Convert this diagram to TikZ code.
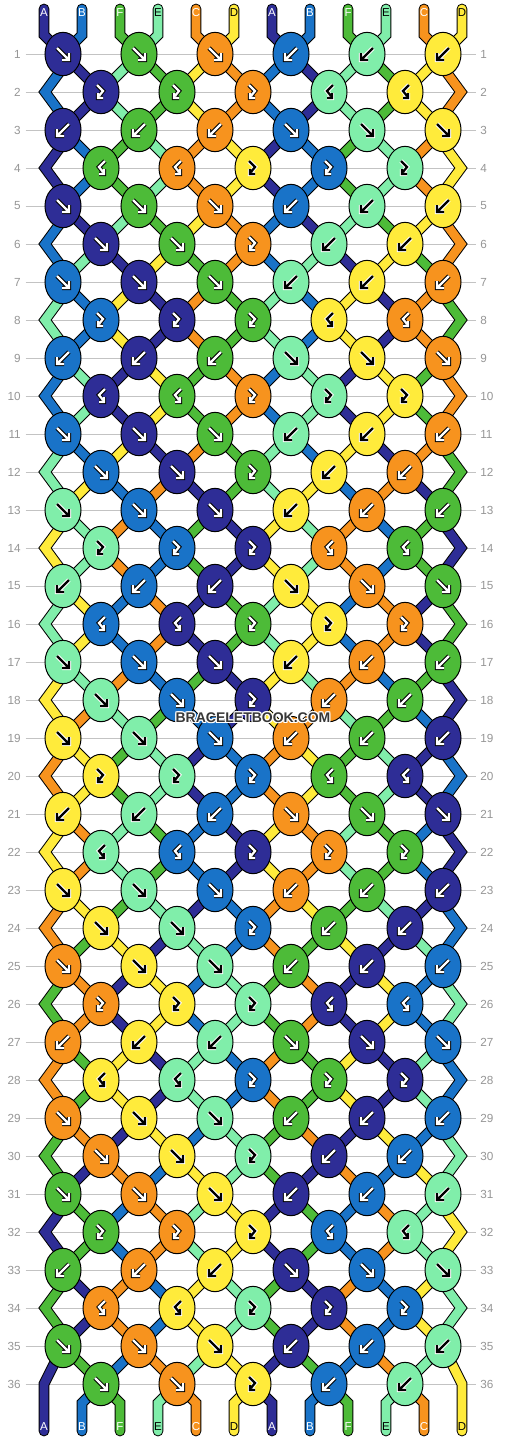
\documentclass[tikz,border=0pt]{standalone}
\usepackage{fontspec}
\setmainfont{Liberation Sans}
\usetikzlibrary{shapes.geometric}

\pgfdeclarelayer{grid}
\pgfdeclarelayer{strands}
\pgfsetlayers{grid,strands,main}

\definecolor{colA}{RGB}{46,45,150}
\definecolor{colB}{RGB}{25,115,200}
\definecolor{colF}{RGB}{77,187,56}
\definecolor{colE}{RGB}{128,238,170}
\definecolor{colC}{RGB}{247,147,30}
\definecolor{colD}{RGB}{255,235,59}
\definecolor{rowgray}{RGB}{195,195,195}
\definecolor{numgray}{RGB}{150,150,150}
\definecolor{markgray}{RGB}{55,55,55}

% arrow colours on each thread colour
\def\inkA{white}\def\inkB{white}\def\inkF{white}\def\inkE{black}\def\inkC{white}\def\inkD{black}
\def\rimA{black}\def\rimB{black}\def\rimF{black}\def\rimE{white}\def\rimC{black}\def\rimD{white}

% knot types: 1 forward, 2 backward, 3 forward-backward, 4 backward-forward
% the rows repeat every six
\def\krowi{1,1,1,2,2,2}
\def\krowii{3,3,3,4,4}
\def\krowiii{2,2,2,1,1,1}
\def\krowiv{4,4,3,3,3}
\def\krowv{1,1,1,2,2,2}
\def\krowvi{1,1,3,2,2}

% follow the threads row by row
\foreach \c [count=\p] in {A,B,F,E,C,D,A,B,F,E,C,D}{%
  \expandafter\xdef\csname st\p\endcsname{\c}%
  \expandafter\xdef\csname sg-0-\p\endcsname{\c}}
\foreach \r in {1,...,36}{%
  \pgfmathtruncatemacro\m{mod(\r-1,6)+1}%
  \pgfmathtruncatemacro\off{1-mod(\r,2)}%
  \edef\tlist{\csname krow\romannumeral\m\endcsname}%
  \foreach \t [count=\j] in \tlist {%
    \pgfmathtruncatemacro\pl{2*\j-1+\off}%
    \pgfmathtruncatemacro\pr{\pl+1}%
    \edef\lcol{\csname st\pl\endcsname}%
    \edef\rcol{\csname st\pr\endcsname}%
    \ifodd\t\relax\edef\kcol{\lcol}\else\edef\kcol{\rcol}\fi
    \ifnum\t<3\relax
      \expandafter\xdef\csname st\pl\endcsname{\rcol}%
      \expandafter\xdef\csname st\pr\endcsname{\lcol}%
    \fi
    \expandafter\xdef\csname kc-\r-\j\endcsname{\kcol}%
    \expandafter\xdef\csname kt-\r-\j\endcsname{\t}%
  }%
  \foreach \p in {1,...,12}{%
    \expandafter\xdef\csname sg-\r-\p\endcsname{\csname st\p\endcsname}}%
}

\tikzset{every picture/.style={line width=0.75pt}}
\tikzset{
  knot/.style={ellipse,draw=black,line width=0.75pt,inner sep=0pt,minimum width=27pt,minimum height=32.5pt},
  strand/.style={draw=black,line width=0.75pt,double=#1,double distance=6.6pt},
  rowline/.style={draw=rowgray,line width=0.75pt},
  rownum/.style={text=numgray,inner sep=3.4pt,font=\fontsize{8.8}{10}\selectfont},
  endlabel/.style={inner sep=0pt,font=\fontsize{8.6}{10}\selectfont},
  watermark/.style={inner sep=0pt,text=markgray,font=\bfseries\fontsize{10.5}{12}\selectfont},
  % the glyphs are drawn with y pointing up
  glyph1/.pic={\foreach \w/\pen in {3.2pt/\gRim,1.7pt/\gInk}
    \draw[line width=\w,draw=\pen,line cap=square] (-6,6) -- (5,-5) (6,1) -- (6,-6) -- (-1,-6);},
  glyph2/.pic={\foreach \w/\pen in {3.2pt/\gRim,1.7pt/\gInk}
    \draw[line width=\w,draw=\pen,line cap=square] (6,6) -- (-5,-5) (-6,1) -- (-6,-6) -- (1,-6);},
  glyph3/.pic={\foreach \w/\pen in {3.2pt/\gRim,1.7pt/\gInk}
    \draw[line width=\w,draw=\pen,line cap=square] (-4,7) -- (2,1) -- (-2,-4) (-3,-1) -- (-3,-6) -- (2,-6);},
  glyph4/.pic={\foreach \w/\pen in {3.2pt/\gRim,1.7pt/\gInk}
    \draw[line width=\w,draw=\pen,line cap=square] (4,7) -- (-2,1) -- (2,-4) (3,-1) -- (3,-6) -- (-2,-6);},
}

\begin{document}
\begin{tikzpicture}[x=0.75pt,y=0.75pt,yscale=-1]
\useasboundingbox (0,0) rectangle (506,1440);

% row numbers and guide lines
\begin{pgfonlayer}{grid}
\fill[white] (0,0) rectangle (506,1440);
\foreach \r in {1,...,36}{
  \node[rownum,anchor=east] (ln-\r) at (25.5,{54+38*(\r-1)}) {\r};
  \node[rownum,anchor=west] (rn-\r) at (475.5,{54+38*(\r-1)}) {\r};
  \draw[rowline] (ln-\r) -- (rn-\r);
}
\end{pgfonlayer}

% knots
\foreach \r in {1,...,36}{
  \pgfmathtruncatemacro\off{1-mod(\r,2)}
  \pgfmathtruncatemacro\nk{6-\off}
  \foreach \j in {1,...,\nk}{
    \edef\kcol{\csname kc-\r-\j\endcsname}
    \edef\ktyp{\csname kt-\r-\j\endcsname}
    \edef\gInk{\csname ink\kcol\endcsname}
    \edef\gRim{\csname rim\kcol\endcsname}
    \node[knot,fill=col\kcol] (k-\r-\j) at ({63+76*(\j-1)+38*\off},{54+38*(\r-1)}) {};
    \pic at (k-\r-\j) {glyph\ktyp};
  }
}

\begin{pgfonlayer}{strands}
% threads at the top
\foreach \c [count=\p] in {A,B,F,E,C,D,A,B,F,E,C,D}{
  \pgfmathtruncatemacro\j{(\p+1)/2}
  \coordinate (top-\p) at ({44+38*(\p-1)},9);
  \draw[strand=col\c,line cap=round] (top-\p) -- ++(0,26) -- (k-1-\j.center);
}
% threads between rows
\foreach \r in {1,...,35}{
  \pgfmathtruncatemacro\off{1-mod(\r,2)}
  \pgfmathtruncatemacro\s{\r+1}
  \foreach \p in {2,...,11}{
    \pgfmathtruncatemacro\ja{(\p+1-\off)/2}
    \pgfmathtruncatemacro\jb{(\p+\off)/2}
    \edef\scol{\csname sg-\r-\p\endcsname}
    \draw[strand=col\scol] (k-\r-\ja.center) -- (k-\s-\jb.center);
  }
}
% edge threads
\foreach \r in {2,4,...,34}{
  \pgfmathtruncatemacro\up{\r-1}
  \pgfmathtruncatemacro\dn{\r+1}
  \coordinate (el-\r) at (45,{54+38*(\r-1)});
  \coordinate (er-\r) at (461,{54+38*(\r-1)});
  \edef\lcol{\csname sg-\r-1\endcsname}
  \edef\rcol{\csname sg-\r-12\endcsname}
  \draw[strand=col\lcol] (k-\up-1.center) -- ++(-4,19) -- (el-\r) -- ++(14,19) -- (k-\dn-1.center);
  \draw[strand=col\rcol] (k-\up-6.center) -- ++(4,19) -- (er-\r) -- ++(-14,19) -- (k-\dn-6.center);
}
% threads at the bottom
\edef\lcol{\csname sg-36-1\endcsname}
\edef\rcol{\csname sg-36-12\endcsname}
\coordinate (bot-1) at (44,1431);
\coordinate (bot-12) at (462,1431);
\draw[strand=col\lcol,line cap=round] (k-35-1.center) -- (44,1384) -- (bot-1);
\draw[strand=col\rcol,line cap=round] (k-35-6.center) -- (462,1384) -- (bot-12);
\foreach \p in {2,...,11}{
  \pgfmathtruncatemacro\j{\p/2}
  \edef\scol{\csname sg-36-\p\endcsname}
  \coordinate (bot-\p) at ({44+38*(\p-1)},1431);
  \draw[strand=col\scol,line cap=round] (k-36-\j.center) -- ({44+38*(\p-1)},1403) -- (bot-\p);
}
\end{pgfonlayer}

% thread letters
\foreach \c [count=\p] in {A,B,F,E,C,D,A,B,F,E,C,D}{
  \edef\lab{\csname ink\c\endcsname}
  \node[endlabel,text=\lab] (tl-\p) at ({44+38*(\p-1)},13) {\c};
  \node[endlabel,text=\lab] (bl-\p) at ({44+38*(\p-1)},1427) {\c};
}

% watermark
\foreach \dx/\dy [count=\h] in {-1/-1,0/-1,1/-1,-1/0,1/0,-1/1,0/1,1/1}
  \node[watermark,text=white] (halo-\h) at (253+\dx,718+\dy) {BRACELETBOOK.COM};
\node[watermark] (wmark) at (253,718) {BRACELETBOOK.COM};
\end{tikzpicture}
\end{document}
